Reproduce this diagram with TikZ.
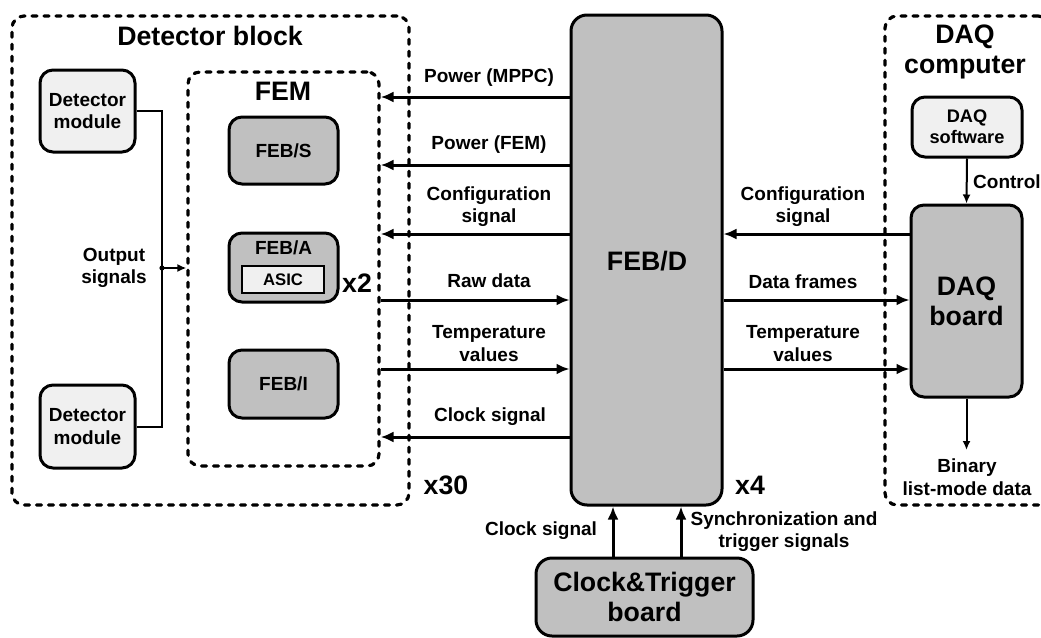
\documentclass[tikz,border=0pt]{standalone}
\usepackage{fontspec}
\setmainfont{Liberation Sans}
\usetikzlibrary{arrows.meta,calc}
\definecolor{boardgray}{RGB}{192,192,192}
\definecolor{lightgray}{RGB}{240,240,240}
\tikzset{
  lbl/.style={font=\fontsize{19}{22.5}\selectfont\bfseries, align=center, inner sep=0pt},
  big/.style={font=\fontsize{26.7}{30}\selectfont\bfseries, align=center, inner sep=0pt},
  dashbox/.style={draw, line width=3.2pt, line cap=round, dash pattern=on 5pt off 7pt,
    rounded corners=12pt, inner sep=0pt},
  board/.style={draw, line width=3pt, fill=boardgray, rounded corners=13pt, inner sep=0pt},
  module/.style={draw, line width=3pt, fill=lightgray, rounded corners=13pt, inner sep=0pt},
  arr/.style={line width=3pt, -{Latex[length=13pt,width=11pt]}},
  thinline/.style={line width=2pt},
  thinarr/.style={line width=2pt, -{Latex[length=9pt,width=8pt]}},
}
\begin{document}
\begin{tikzpicture}[x=1pt, y=-1pt]
\useasboundingbox (0,0) rectangle (1041,637);

% --- outer groupings (dashed) ---
\node[dashbox, minimum width=397pt, minimum height=489pt] (detblock) at (210.5,260.5) {};
\node[big] (detblocktitle) at (210,36) {Detector block};
\node[dashbox, minimum width=191pt, minimum height=394pt] (fem) at (283.5,269) {};
\node[big] (femtitle) at (283,91) {FEM};
\node[dashbox, minimum width=165pt, minimum height=489pt] (daqpc) at (967.5,260.5) {};
\node[big] (daqpctitle) at (965,52) {DAQ\\computer};

% --- detector modules ---
\node[module, minimum width=95pt, minimum height=82pt, lbl] (det1) at (87.5,111) {Detector\\module};
\node[module, minimum width=95pt, minimum height=83pt, lbl] (det2) at (87.5,426.5) {Detector\\module};

% --- front-end boards inside the FEM ---
\node[board, minimum width=109pt, minimum height=67pt, lbl] (febs) at (283.5,150.5) {FEB/S};
\node[board, minimum width=109pt, minimum height=69pt] (feba) at (283.5,267.5) {};
\node[lbl] (febatitle) at (283.5,248) {FEB/A};
\node[draw, line width=1.6pt, fill=lightgray, minimum width=82pt, minimum height=27pt,
  inner sep=0pt, font=\fontsize{16.7}{20}\selectfont\bfseries] (asic) at (283,279.5) {ASIC};
\node[big] (x2) at (357,283) {x2};
\node[board, minimum width=109pt, minimum height=68pt, lbl] (febi) at (283.5,384) {FEB/I};

% --- FEB/D, DAQ side and clock board ---
\node[board, rounded corners=16pt, minimum width=151pt, minimum height=490pt] (febd) at (646.5,260) {};
\node[big] (febdtitle) at (647,261) {FEB/D};
\node[module, minimum width=110pt, minimum height=60pt, font=\fontsize{18.2}{21}\selectfont\bfseries, align=center]
  (daqsw) at (967,127) {DAQ\\software};
\node[board, minimum width=111pt, minimum height=192pt, big] (daqb) at (966.5,301) {DAQ\\board};
\node[board, rounded corners=16pt, minimum width=217pt, minimum height=78pt, big] (ctb) at (644.5,597)
  {Clock\&Trigger\\board};

\node[big] (x30) at (446,485) {x30};
\node[big] (x4) at (750,485) {x4};

% --- detector outputs into the FEM ---
\coordinate (bus) at (162,268);
\draw[thinline] (det1.east) -| (bus) |- (det2.east);
\fill (bus) circle (2.6pt);
\draw[thinarr] (bus) -- (fem.west |- bus);
\node[lbl] (outlbl) at (114,268) {Output\\signals};

% --- FEB/D <-> FEM links ---
\draw[arr] (febd.west |- 0,97) -- (fem.east |- 0,97);
\node[lbl] (l1) at (489,78) {Power (MPPC)};
\draw[arr] (febd.west |- 0,165) -- (fem.east |- 0,165);
\node[lbl] (l2) at (489,145) {Power (FEM)};
\draw[arr] (febd.west |- 0,234) -- (fem.east |- 0,234);
\node[lbl] (l3) at (489,206.5) {Configuration\\signal};
\draw[arr] (fem.east |- 0,300) -- (febd.west |- 0,300);
\node[lbl] (l4) at (489,281) {Raw data};
\draw[arr] (fem.east |- 0,369) -- (febd.west |- 0,369);
\node[lbl] (l5) at (489,343.5) {Temperature\\values};
\draw[arr] (febd.west |- 0,437) -- (fem.east |- 0,437);
\node[lbl] (l6) at (490,417) {Clock signal};

% --- FEB/D <-> DAQ board links ---
\draw[arr] (daqb.west |- 0,234) -- (febd.east |- 0,234);
\node[lbl] (r1) at (803,206.5) {Configuration\\signal};
\draw[arr] (febd.east |- 0,300) -- (daqb.west |- 0,300);
\node[lbl] (r2) at (803,282) {Data frames};
\draw[arr] (febd.east |- 0,369) -- (daqb.west |- 0,369);
\node[lbl] (r3) at (803,343.5) {Temperature\\values};

% --- DAQ computer internals ---
\draw[thinarr] (daqsw.south) -- (daqb.north);
\node[lbl, anchor=west] (ctl) at (973,182) {Control};
\coordinate (binend) at (966.5,450);
\draw[thinarr] (daqb.south) -- (binend);
\node[lbl] (binlbl) at (967,477) {Binary\\list-mode data};

% --- clock and trigger distribution ---
\draw[arr] (ctb.north -| 613,0) -- (febd.south -| 613,0);
\draw[arr] (ctb.north -| 681,0) -- (febd.south -| 681,0);
\node[lbl] (clk) at (541,531) {Clock signal};
\node[lbl] (sync) at (784,531.5) {Synchronization and\\trigger signals};
\end{tikzpicture}
\end{document}
